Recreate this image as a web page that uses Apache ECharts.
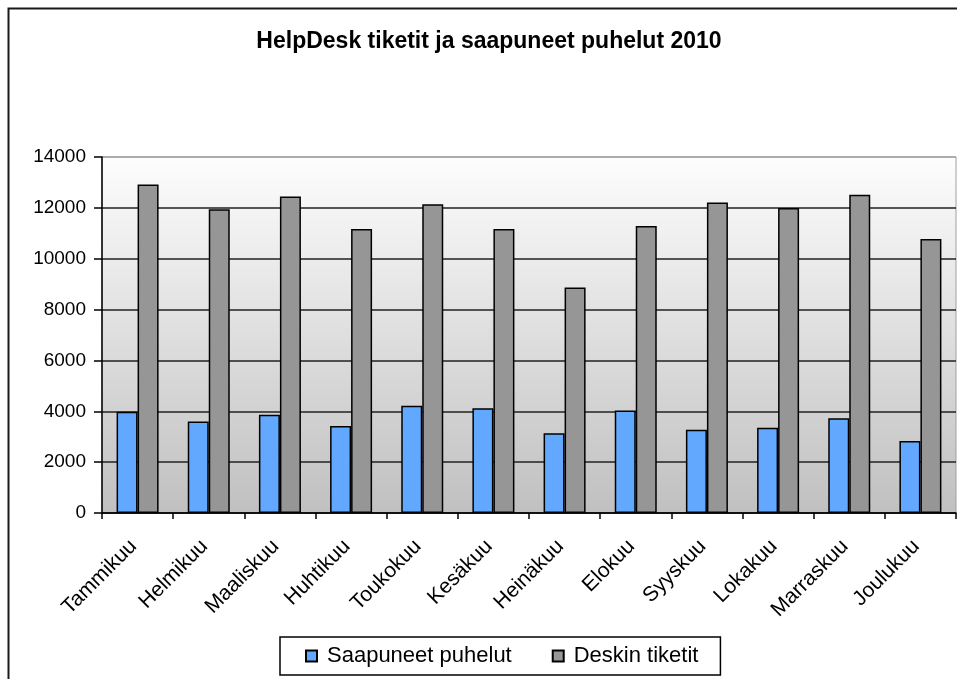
<!DOCTYPE html>
<html>
<head>
<meta charset="utf-8">
<script src="https://cdn.jsdelivr.net/npm/echarts@6/dist/echarts.min.js"></script>
<style>
html,body{margin:0;padding:0;background:#fff;}
#chart{width:957px;height:679px;}
</style>
</head>
<body>
<div id="chart"></div>
<script>
const titleText = 'HelpDesk tiketit ja saapuneet puhelut 2010';
const months = ['Tammikuu','Helmikuu','Maaliskuu','Huhtikuu','Toukokuu','Kesäkuu','Heinäkuu','Elokuu','Syyskuu','Lokakuu','Marraskuu','Joulukuu'];
const seriesNames = ['Saapuneet puhelut','Deskin tiketit'];
const saapuneetPuhelut = [3980, 3600, 3860, 3420, 4220, 4120, 3140, 4030, 3270, 3350, 3730, 2830];
const deskinTiketit = [12920, 11950, 12450, 11170, 12140, 11170, 8870, 11290, 12210, 11990, 12520, 10780];
const yMin = 0, yMax = 14000, yStep = 2000;

const FONT = '"Liberation Sans", Arial, sans-serif';
const chart = echarts.init(document.getElementById('chart'), null, {renderer:'canvas'});
const gridColors = [];
for (let v = yMin; v <= yMax; v += yStep) gridColors.push(v === yMax ? '#a0a0a0' : '#202020');

chart.setOption({
  animation: false,
  backgroundColor: '#fff',
  title: {
    text: titleText,
    left: 489, top: 30, padding: 0,
    textAlign: 'center',
    textStyle: {fontFamily: FONT, fontSize: 23, fontWeight: 'bold', color: '#000'}
  },
  graphic: [{
    type: 'rect', silent: true, z: 100,
    shape: {x: 8.5, y: 8.5, width: 1000, height: 1000},
    style: {fill: 'none', stroke: '#1a1a1a', lineWidth: 2}
  }],
  legend: {
    left: 280, top: 637,
    padding: [8, 22, 8, 25],
    borderColor: '#000', borderWidth: 1.5,
    itemWidth: 11, itemHeight: 11, itemGap: 40,
    icon: 'rect',
    textStyle: {fontFamily: FONT, fontSize: 22, color: '#000', padding: [0,0,0,5]},
    data: seriesNames
  },
  grid: {
    left: 102, right: 1, top: 157, bottom: 166,
    show: true,
    borderColor: '#a0a0a0', borderWidth: 1,
    backgroundColor: new echarts.graphic.LinearGradient(0, 0, 0, 1, [
      {offset: 0, color: '#fdfdfd'},
      {offset: 1, color: '#c0c0c0'}
    ])
  },
  xAxis: {
    type: 'category',
    data: months,
    axisLine: {lineStyle: {color: '#000', width: 1.5}},
    axisTick: {show: true, length: 6, lineStyle: {color: '#000', width: 1.5}},
    axisLabel: {rotate: 45, margin: 26, interval: 0, padding: [0, 6, 0, 0], fontFamily: FONT, fontSize: 21, color: '#000'}
  },
  yAxis: {
    type: 'value',
    min: yMin, max: yMax, interval: yStep,
    axisLine: {show: true, lineStyle: {color: '#000', width: 1.5}},
    axisTick: {show: true, length: 8, lineStyle: {color: '#000', width: 1.5}},
    axisLabel: {margin: 16, fontFamily: FONT, fontSize: 19, color: '#000', formatter: v => String(v)},
    splitLine: {show: true, lineStyle: {color: gridColors, width: 1.5}}
  },
  series: [
    {
      name: seriesNames[0], type: 'bar', data: saapuneetPuhelut,
      barWidth: 21, barGap: '0%',
      itemStyle: {color: '#63a8ff', borderColor: '#000', borderWidth: 1.5}
    },
    {
      name: seriesNames[1], type: 'bar', data: deskinTiketit,
      barWidth: 21,
      itemStyle: {color: '#969696', borderColor: '#000', borderWidth: 1.5}
    }
  ]
});
</script>
</body>
</html>
